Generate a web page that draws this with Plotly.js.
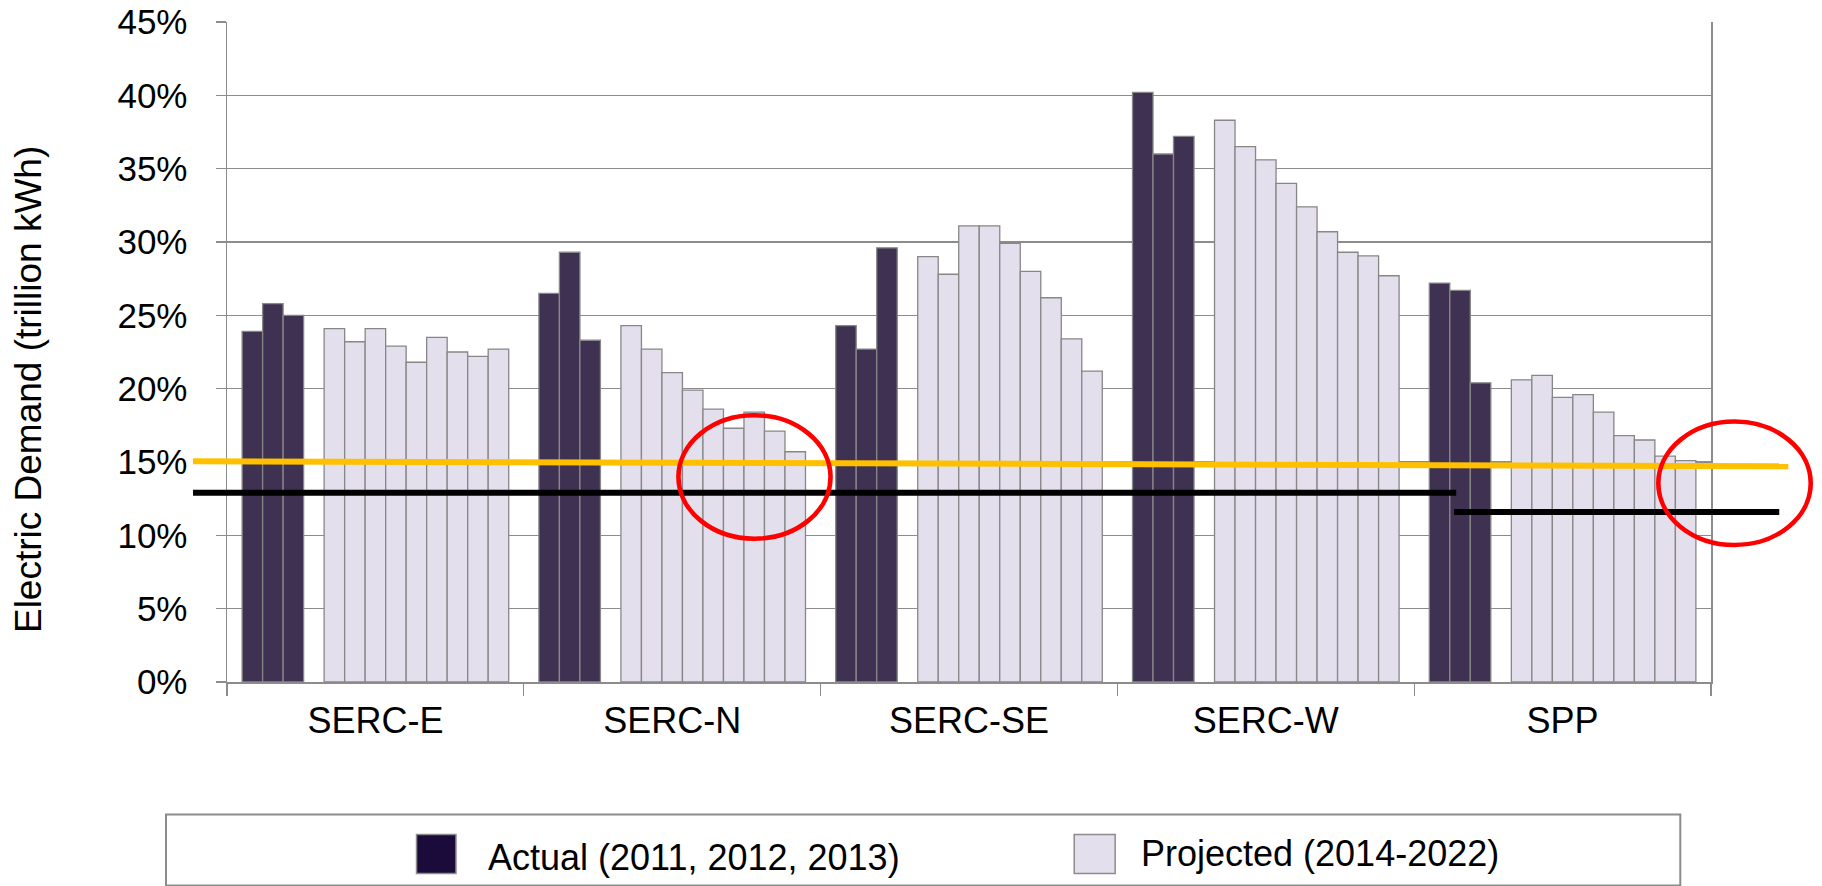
<!DOCTYPE html>
<html>
<head>
<meta charset="utf-8">
<script src="https://cdn.plot.ly/plotly-3.0.1.min.js"></script>
<style>
html,body{margin:0;padding:0;background:#fff;}
#chart{width:1822px;height:886px;}
</style>
</head>
<body>
<div id="chart"></div>
<script>
// ---- data (percent) ----
var categories = ['SERC-E', 'SERC-N', 'SERC-SE', 'SERC-W', 'SPP'];
var actualYears = ['2011', '2012', '2013'];
var projectedYears = ['2014', '2015', '2016', '2017', '2018', '2019', '2020', '2021', '2022'];

var sercE_actual = [23.9, 25.8, 25.0];
var sercN_actual = [26.5, 29.3, 23.3];
var sercSE_actual = [24.3, 22.7, 29.6];
var sercW_actual = [40.2, 36.0, 37.2];
var spp_actual = [27.2, 26.7, 20.4];

var sercE_projected = [24.1, 23.2, 24.1, 22.9, 21.8, 23.5, 22.5, 22.2, 22.7];
var sercN_projected = [24.3, 22.7, 21.1, 19.9, 18.6, 17.3, 18.4, 17.1, 15.7];
var sercSE_projected = [29.0, 27.8, 31.1, 31.1, 29.9, 28.0, 26.2, 23.4, 21.2];
var sercW_projected = [38.3, 36.5, 35.6, 34.0, 32.4, 30.7, 29.3, 29.05, 27.7];
var spp_projected = [20.6, 20.9, 19.4, 19.6, 18.4, 16.8, 16.5, 15.4, 15.1];

// reference lines (percent): [start, end]
var orangeLine = [15.05, 14.71];
var blackLine1 = [12.91, 12.91];
var blackLine2 = [11.59, 11.59];

var legendLabels = ['Actual (2011, 2012, 2013)', 'Projected (2014-2022)'];
var yTitle = 'Electric Demand (trillion kWh)';

// ---- build traces ----
var actualByRegion = [sercE_actual, sercN_actual, sercSE_actual, sercW_actual, spp_actual];
var projectedByRegion = [sercE_projected, sercN_projected, sercSE_projected, sercW_projected, spp_projected];

var darkColor = '#3f3151';
var lightColor = '#e4dfec';
var edgeColor = '#878787';

var traces = [];
actualYears.forEach(function (yr, i) {
  traces.push({
    type: 'bar', name: 'Actual ' + yr, x: categories,
    y: actualByRegion.map(function (r) { return r[i]; }),
    marker: { color: darkColor, line: { color: edgeColor, width: 1.3 } },
    showlegend: false, hovertemplate: '%{x} ' + yr + ': %{y}%<extra></extra>'
  });
});
// empty spacer slot between actual and projected
traces.push({
  type: 'bar', name: 'gap', x: categories, y: categories.map(function () { return 0; }),
  marker: { color: 'rgba(0,0,0,0)', line: { width: 0 } },
  showlegend: false, hoverinfo: 'skip'
});
projectedYears.forEach(function (yr, i) {
  traces.push({
    type: 'bar', name: 'Projected ' + yr, x: categories,
    y: projectedByRegion.map(function (r) { return r[i]; }),
    marker: { color: lightColor, line: { color: edgeColor, width: 1.3 } },
    showlegend: false, hovertemplate: '%{x} ' + yr + ': %{y}%<extra></extra>'
  });
});

// ---- layout ----
var FONT = '"Liberation Sans", Arial, sans-serif';
var gridC = '#8c8c8c';

var shapes = [
  // threshold lines
  { type: 'line', xref: 'paper', yref: 'y', x0: -0.0229, x1: 1.0521, y0: orangeLine[0], y1: orangeLine[1],
    line: { color: '#ffc000', width: 6 } },
  { type: 'line', xref: 'paper', yref: 'y', x0: -0.0229, x1: 0.8283, y0: blackLine1[0], y1: blackLine1[1],
    line: { color: '#000000', width: 6 } },
  { type: 'line', xref: 'paper', yref: 'y', x0: 0.8268, x1: 1.0460, y0: blackLine2[0], y1: blackLine2[1],
    line: { color: '#000000', width: 6 } },
  // red ellipses
  { type: 'circle', xref: 'paper', yref: 'paper', x0: 0.3042, x1: 0.4067, y0: 0.2171, y1: 0.4041,
    line: { color: '#ff0000', width: 4.6 } },
  { type: 'circle', xref: 'paper', yref: 'paper', x0: 0.9645, x1: 1.0672, y0: 0.2075, y1: 0.3946,
    line: { color: '#ff0000', width: 4.6 } },
  // legend box
  { type: 'rect', xref: 'paper', yref: 'paper', x0: -0.0411, x1: 0.9793, y0: -0.3083, y1: -0.2007,
    line: { color: '#8c8c8c', width: 2 }, fillcolor: 'rgba(0,0,0,0)' },
  // legend swatches
  { type: 'rect', xref: 'paper', yref: 'paper', x0: 0.1277, x1: 0.1543, y0: -0.2901, y1: -0.2310,
    line: { color: '#8c8c8c', width: 1.5 }, fillcolor: '#1b0b3b' },
  { type: 'rect', xref: 'paper', yref: 'paper', x0: 0.5709, x1: 0.5985, y0: -0.2901, y1: -0.2310,
    line: { color: '#8c8c8c', width: 1.5 }, fillcolor: lightColor }
];

var annotations = [
  { xref: 'paper', yref: 'paper', x: 0.1746, y: -0.2659, xanchor: 'left', yanchor: 'middle',
    text: legendLabels[0], showarrow: false, font: { family: FONT, size: 36, color: '#000' } },
  { xref: 'paper', yref: 'paper', x: 0.6147, y: -0.2598, xanchor: 'left', yanchor: 'middle',
    text: legendLabels[1], showarrow: false, font: { family: FONT, size: 36, color: '#000' } },
  { xref: 'paper', yref: 'paper', x: -0.1339, y: 0.4428, xanchor: 'center', yanchor: 'middle',
    textangle: -90, text: yTitle, showarrow: false, font: { family: FONT, size: 37, color: '#000' } }
];

var layout = {
  width: 1822, height: 886,
  margin: { l: 227, r: 111.3, t: 21.9, b: 204.4, pad: 0 },
  paper_bgcolor: '#ffffff', plot_bgcolor: '#ffffff',
  barmode: 'group', bargap: 0.1018, bargroupgap: 0,
  showlegend: false,
  font: { family: FONT, size: 36, color: '#000' },
  xaxis: {
    type: 'category', range: [-0.5, 4.5], fixedrange: true,
    tickson: 'boundaries', ticks: 'outside', ticklen: 12, tickwidth: 1.3, tickcolor: gridC,
    showline: true, linecolor: gridC, linewidth: 1.5,
    showgrid: false, zeroline: false,
    tickfont: { family: FONT, size: 36, color: '#000' },
    ticklabelstandoff: 6
  },
  yaxis: {
    range: [0, 45], dtick: 5, tick0: 0, ticksuffix: '%', fixedrange: true,
    ticks: 'outside', ticklen: 10, tickwidth: 1.3, tickcolor: gridC,
    showline: true, mirror: true, linecolor: gridC, linewidth: 1.5,
    showgrid: true, gridcolor: gridC, gridwidth: 1.3, zeroline: false,
    tickfont: { family: FONT, size: 35, color: '#000' },
    ticklabelstandoff: 21
  },
  shapes: shapes,
  annotations: annotations
};

Plotly.newPlot('chart', traces, layout, { staticPlot: true, displayModeBar: false });
</script>
</body>
</html>
